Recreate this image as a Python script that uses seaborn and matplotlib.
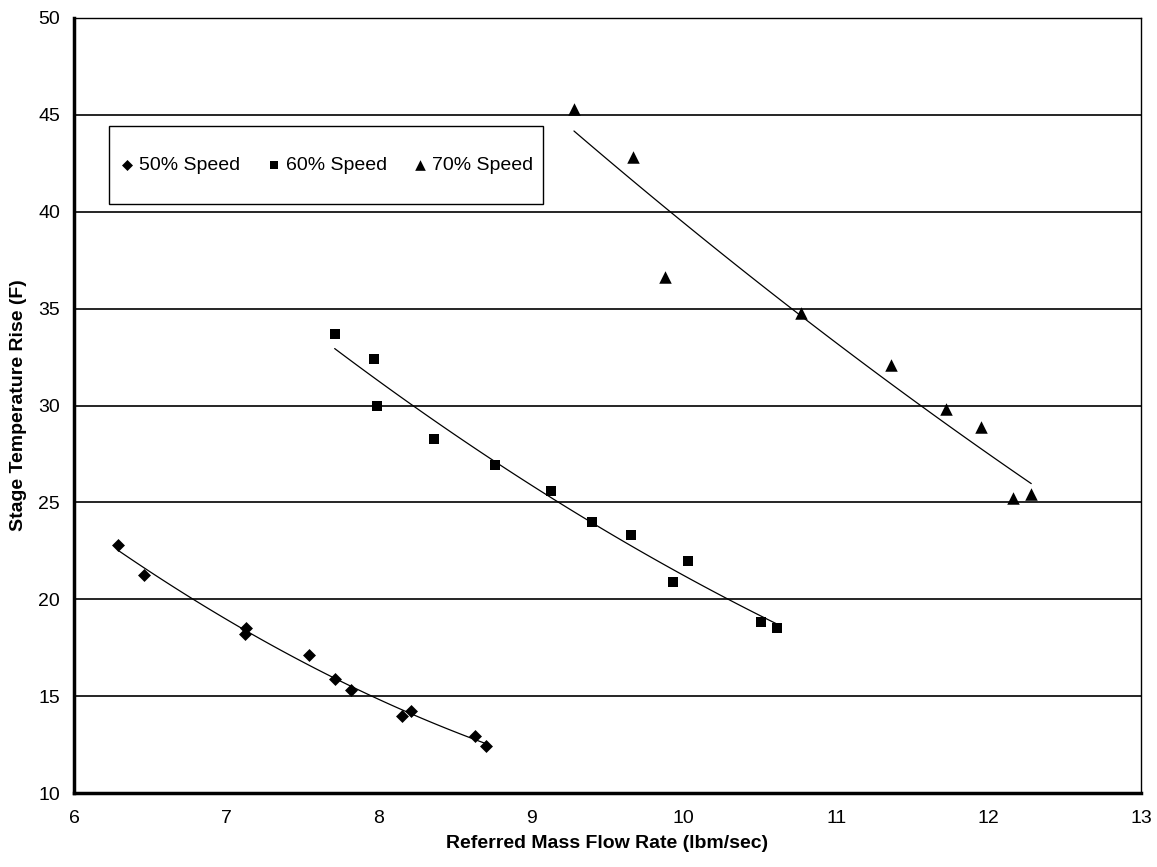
import numpy as np
import pandas as pd
import matplotlib
matplotlib.use("Agg")
import matplotlib.pyplot as plt
from matplotlib.patches import Rectangle
import seaborn as sns

# -----------------------------
# Data
# -----------------------------
speeds = ["50% Speed", "60% Speed", "70% Speed"]

flow_50 = [6.29, 6.46, 7.13, 7.12, 7.54, 7.71, 7.82, 8.15, 8.21, 8.63, 8.70]
temp_50 = [22.8, 21.25, 18.5, 18.2, 17.1, 15.9, 15.3, 13.95, 14.25, 12.95, 12.45]

flow_60 = [7.71, 7.97, 7.99, 8.36, 8.76, 9.13, 9.40, 9.655, 10.03, 9.93, 10.51, 10.61]
temp_60 = [33.7, 32.4, 30.0, 28.25, 26.95, 25.6, 24.0, 23.3, 22.0, 20.9, 18.85, 18.5]

flow_70 = [9.28, 9.67, 9.88, 10.77, 11.36, 11.72, 11.95, 12.16, 12.28]
temp_70 = [45.3, 42.85, 36.65, 34.8, 32.1, 29.8, 28.9, 25.25, 25.45]

x_ticks = [6, 7, 8, 9, 10, 11, 12, 13]
y_ticks = [10, 15, 20, 25, 30, 35, 40, 45, 50]

# -----------------------------
# Build frame
# -----------------------------
df = pd.concat([
    pd.DataFrame({"speed": speeds[0], "flow": flow_50, "temp": temp_50}),
    pd.DataFrame({"speed": speeds[1], "flow": flow_60, "temp": temp_60}),
    pd.DataFrame({"speed": speeds[2], "flow": flow_70, "temp": temp_70}),
], ignore_index=True)

markers = {"50% Speed": ("D", 6.6), "60% Speed": ("s", 7.5), "70% Speed": ("^", 9.0)}

sns.set_theme(style="white")
plt.rcParams["font.family"] = ["Liberation Sans", "DejaVu Sans"]
plt.rcParams["text.color"] = "black"
plt.rcParams["axes.labelcolor"] = "black"

fig = plt.figure(figsize=(11.57, 8.67), dpi=100)
ax = fig.add_axes([74 / 1157, 1 - 793 / 867, 1067 / 1157, 775 / 867])

for name in speeds:
    sub = df[df["speed"] == name]
    mk, ms = markers[name]
    # quadratic trend line, then the points on top
    sns.regplot(data=sub, x="flow", y="temp", order=2, ci=None, scatter=False,
                truncate=True, color="black", line_kws={"lw": 0.9}, ax=ax)
    sns.scatterplot(data=sub, x="flow", y="temp", marker=mk, s=ms ** 2,
                    color="black", linewidth=0, label=name, ax=ax, zorder=3)

ax.set_xlim(6, 13)
ax.set_ylim(10, 50)
ax.set_xticks(x_ticks)
ax.set_yticks(y_ticks)

ax.yaxis.grid(True, color="black", lw=1.2)
ax.xaxis.grid(False)
ax.set_axisbelow(True)

for side in ["left", "bottom"]:
    ax.spines[side].set_linewidth(2.5)
    ax.spines[side].set_color("black")
for side in ["top", "right"]:
    ax.spines[side].set_linewidth(1.0)
    ax.spines[side].set_color("black")

ax.tick_params(direction="in", length=5, width=2, labelsize=14, colors="black")
ax.tick_params(axis="x", pad=12)
ax.tick_params(axis="y", pad=10)

ax.set_xlabel("Referred Mass Flow Rate (lbm/sec)", fontsize=14, fontweight="bold", labelpad=6)
ax.set_ylabel("Stage Temperature Rise (F)", fontsize=14, fontweight="bold", labelpad=8)

# legend box (frame drawn separately so it keeps the reference proportions)
leg_box = (0.033, 0.76, 0.407, 0.101)
ax.add_patch(Rectangle(leg_box[:2], leg_box[2], leg_box[3], transform=ax.transAxes,
                       facecolor="white", edgecolor="black", lw=1.0, zorder=4))

handles, labels = ax.get_legend_handles_labels()
leg = ax.legend(handles, labels, loc="center", bbox_to_anchor=leg_box,
                ncol=3, frameon=False, fontsize=14, borderpad=0,
                handletextpad=0.22, markerscale=0.85, columnspacing=1.3,
                handlelength=0.8)
leg.set_zorder(5)

fig.savefig("out.png", dpi=100)
